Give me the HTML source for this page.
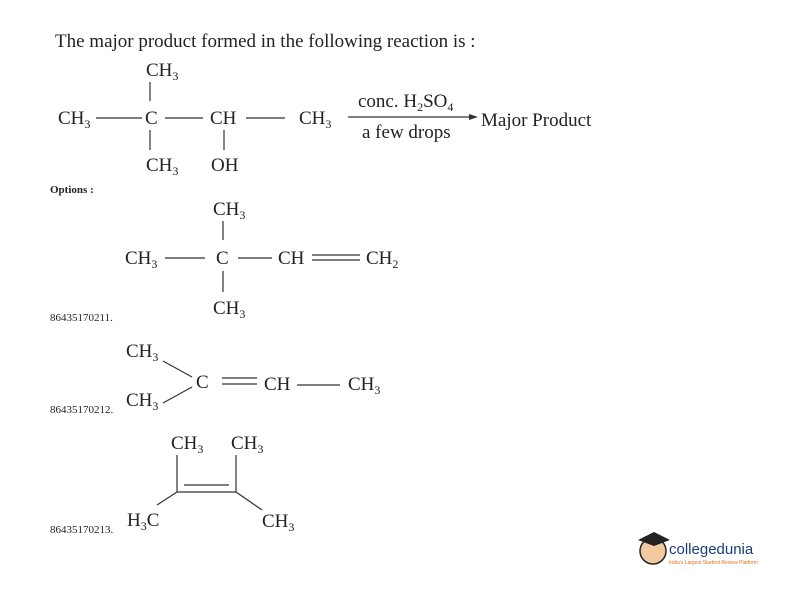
<!DOCTYPE html>
<html><head><style>
html,body{margin:0;padding:0;background:#fff}
svg{display:block}
text{font-family:"Liberation Serif",serif;fill:#222}
.s{font-size:19px}
.sub{font-size:12px}
</style></head><body>
<svg width="792" height="612" viewBox="0 0 792 612" xmlns="http://www.w3.org/2000/svg">
<g stroke="#333" stroke-width="1.2" fill="none">
<line x1="150" y1="82" x2="150" y2="101"/>
<line x1="96" y1="118" x2="142" y2="118"/>
<line x1="165" y1="118" x2="203" y2="118"/>
<line x1="246" y1="118" x2="285" y2="118"/>
<line x1="150" y1="130" x2="150" y2="150"/>
<line x1="224" y1="130" x2="224" y2="150"/>
<line x1="348" y1="117" x2="472" y2="117"/>
<line x1="223" y1="221" x2="223" y2="240"/>
<line x1="165" y1="258" x2="205" y2="258"/>
<line x1="238" y1="258" x2="272" y2="258"/>
<line x1="312" y1="255" x2="360" y2="255"/>
<line x1="312" y1="260" x2="360" y2="260"/>
<line x1="223" y1="271" x2="223" y2="292"/>
<line x1="163" y1="361" x2="192" y2="377"/>
<line x1="163" y1="403" x2="192" y2="387"/>
<line x1="222" y1="378" x2="257" y2="378"/>
<line x1="222" y1="384" x2="257" y2="384"/>
<line x1="297" y1="385" x2="340" y2="385"/>
<line x1="177" y1="455" x2="177" y2="492"/>
<line x1="236" y1="455" x2="236" y2="492"/>
<line x1="177" y1="492" x2="236" y2="492"/>
<line x1="184" y1="485" x2="229" y2="485"/>
<line x1="157" y1="505" x2="177" y2="492"/>
<line x1="236" y1="492" x2="262" y2="510"/>
</g>
<polygon points="478,117 469,114 469,120" fill="#333"/>
<text x="55" y="47" class="s">The major product formed in the following reaction is :</text>
<text x="146" y="76" class="s">CH<tspan class="sub" dy="4">3</tspan></text>
<text x="58" y="124" class="s">CH<tspan class="sub" dy="4">3</tspan></text>
<text x="145" y="124" class="s">C</text>
<text x="210" y="124" class="s">CH</text>
<text x="299" y="124" class="s">CH<tspan class="sub" dy="4">3</tspan></text>
<text x="146" y="171" class="s">CH<tspan class="sub" dy="4">3</tspan></text>
<text x="211" y="171" class="s">OH</text>
<text x="358" y="107" class="s">conc. H<tspan class="sub" dy="4">2</tspan><tspan dy="-4">SO</tspan><tspan class="sub" dy="4">4</tspan></text>
<text x="362" y="138" class="s">a few drops</text>
<text x="481" y="126" class="s">Major Product</text>
<text x="50" y="193" style="font-size:11px;font-weight:bold">Options :</text>
<text x="213" y="215" class="s">CH<tspan class="sub" dy="4">3</tspan></text>
<text x="125" y="264" class="s">CH<tspan class="sub" dy="4">3</tspan></text>
<text x="216" y="264" class="s">C</text>
<text x="278" y="264" class="s">CH</text>
<text x="366" y="264" class="s">CH<tspan class="sub" dy="4">2</tspan></text>
<text x="213" y="314" class="s">CH<tspan class="sub" dy="4">3</tspan></text>
<text x="50" y="321" style="font-size:11px">86435170211.</text>
<text x="126" y="357" class="s">CH<tspan class="sub" dy="4">3</tspan></text>
<text x="196" y="388" class="s">C</text>
<text x="264" y="390" class="s">CH</text>
<text x="348" y="390" class="s">CH<tspan class="sub" dy="4">3</tspan></text>
<text x="126" y="406" class="s">CH<tspan class="sub" dy="4">3</tspan></text>
<text x="50" y="413" style="font-size:11px">86435170212.</text>
<text x="171" y="449" class="s">CH<tspan class="sub" dy="4">3</tspan></text>
<text x="231" y="449" class="s">CH<tspan class="sub" dy="4">3</tspan></text>
<text x="127" y="526" class="s">H<tspan class="sub" dy="4">3</tspan><tspan dy="-4">C</tspan></text>
<text x="262" y="527" class="s">CH<tspan class="sub" dy="4">3</tspan></text>
<text x="50" y="533" style="font-size:11px">86435170213.</text>
<circle cx="653" cy="551" r="13" fill="#f3c9a0" stroke="#222" stroke-width="1.5"/>
<path d="M638,540 L654,532 L670,540 L654,546 Z" fill="#222"/>
<text x="669" y="554" style="font-family:'Liberation Sans',sans-serif;font-size:15px;fill:#1a3d7c">collegedunia</text>
<text x="669" y="564" style="font-family:'Liberation Sans',sans-serif;font-size:5px;fill:#e07020">India's Largest Student Review Platform</text>
</svg>
</body></html>
